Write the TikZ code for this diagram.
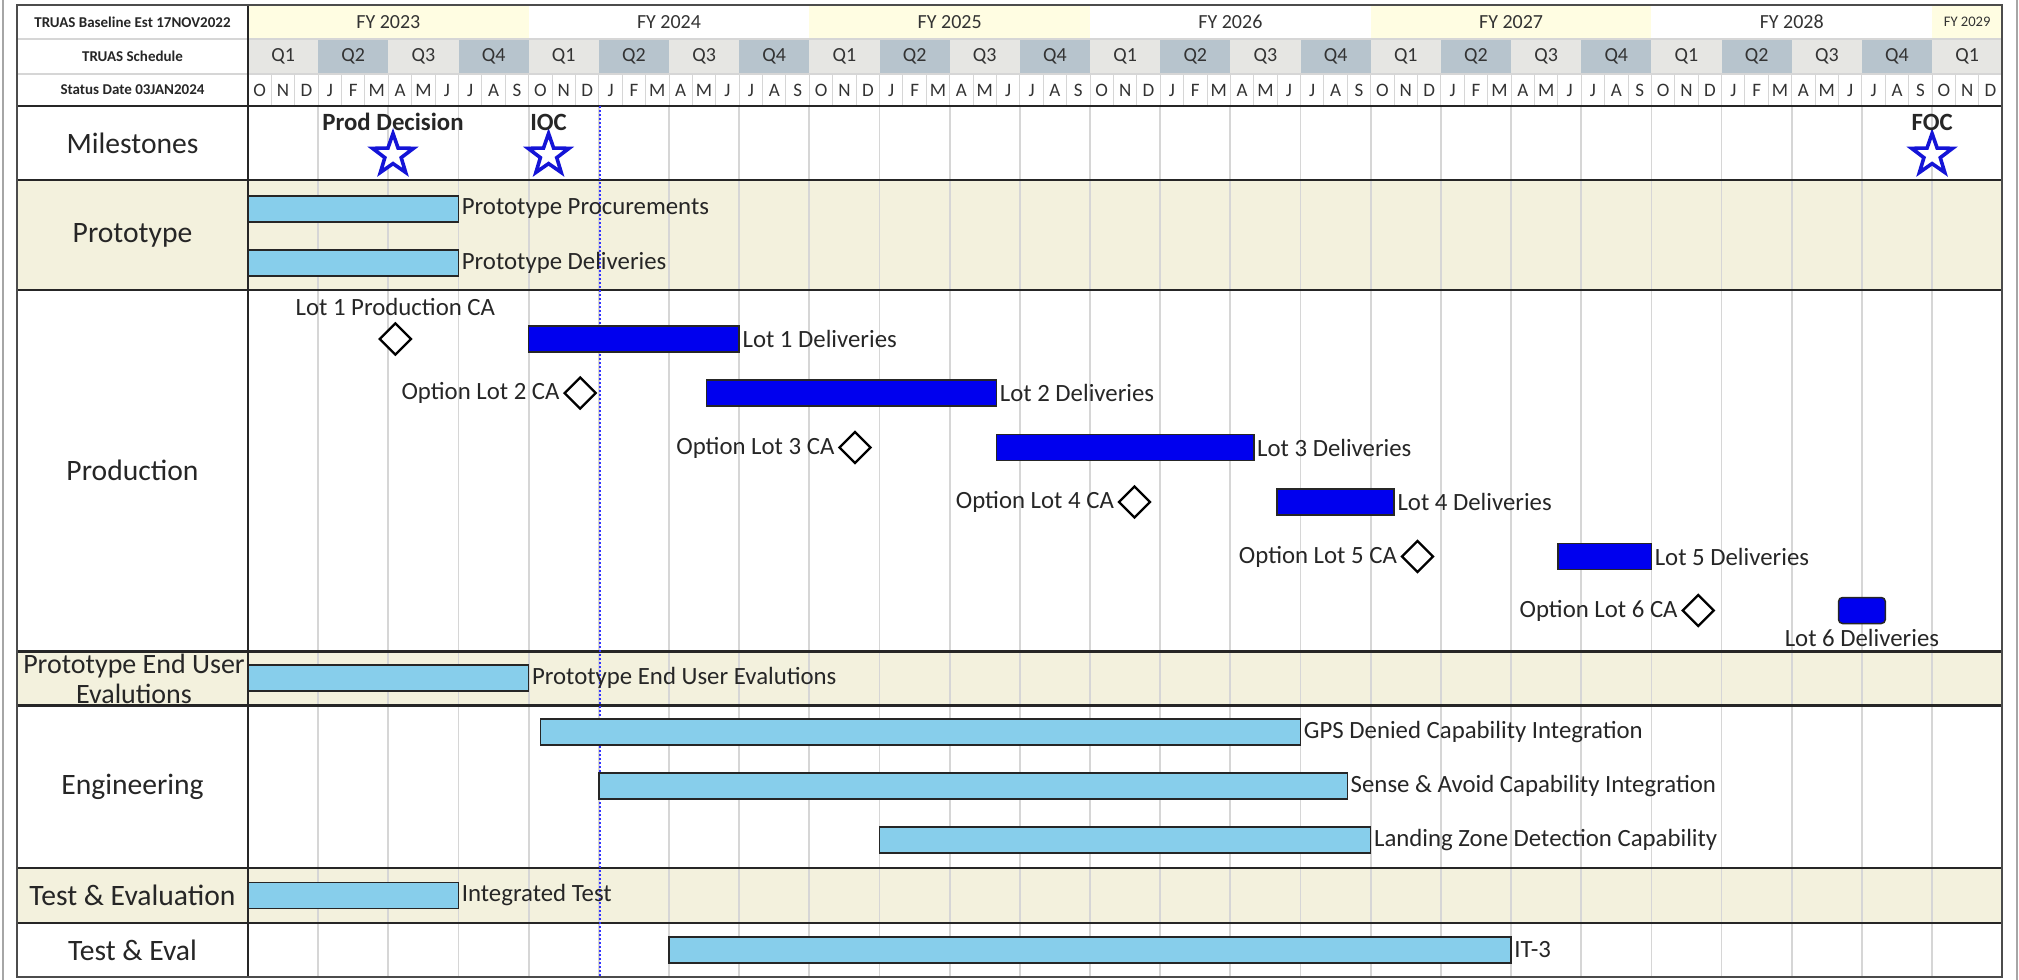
\documentclass[tikz,border=0pt]{standalone}
\usepackage{fontspec}
\setmainfont{Carlito}
\usetikzlibrary{shapes.geometric}

\definecolor{fyyellow}{RGB}{255,253,226}
\definecolor{rowshade}{RGB}{243,241,221}
\definecolor{qlight}{RGB}{230,230,227}
\definecolor{qdark}{RGB}{183,196,205}
\definecolor{lightbar}{RGB}{135,206,235}
\definecolor{lotblue}{RGB}{0,0,238}
\definecolor{gridgray}{RGB}{214,214,214}
\definecolor{starblue}{RGB}{20,20,215}

\tikzset{
  framegray/.style={line width=1pt, gray!70},
  gridline/.style={line width=0.9pt, gridgray},
  hdrline/.style={line width=0.6pt, gridgray},
  sectline/.style={line width=1.2pt, black!85},
  borderline/.style={line width=1pt, black!70},
  statusline/.style={line width=1pt, blue!80, densely dotted},
  hdrtxt/.style={font=\fontsize{7.5}{9}\selectfont\bfseries, text=black!85},
  fytxt/.style={font=\fontsize{10}{12}\selectfont, text=black!80},
  monthtxt/.style={font=\fontsize{9.5}{11}\selectfont, text=black!80},
  secttxt/.style={font=\fontsize{14.8}{15}\selectfont, text=black!85, align=center},
  bartxt/.style={font=\fontsize{12.4}{14}\selectfont, text=black!85, inner sep=1.5pt},
  mstxt/.style={font=\fontsize{12.4}{14}\selectfont\bfseries, text=black!85},
  lightbox/.style={fill=lightbar, draw=black!85, line width=0.75pt},
  lotbox/.style={fill=lotblue, draw=black!85, line width=0.75pt},
  milestar/.style={star, star points=5, star point ratio=2.5, minimum size=21.5pt,
    inner sep=0pt, draw=starblue, line width=1.8pt, fill=white},
  cadiamond/.style={diamond, minimum size=16pt, inner sep=0pt, draw=black,
    line width=1.15pt, fill=white},
}

\begin{document}
\begin{tikzpicture}[x=0.5pt, y=-0.5pt]
    \useasboundingbox (0,0) rectangle (2019,980);

    % outer frame
    \draw[framegray] (2.5,0) -- (2.5,980);
    \draw[framegray] (2017,0) -- (2017,980);

    % shaded rows
    \fill[rowshade] (17,180) rectangle (2002,290);
    \fill[rowshade] (17,651.5) rectangle (2002,705.6);
    \fill[rowshade] (17,868) rectangle (2002,923);

    \begin{scope}[xshift=124pt, x=11.695pt]
        % FY row
        \foreach \yy [count=\k from 0] in {2023,...,2028}{
            \pgfmathtruncatemacro\ev{mod(\k,2)}
            \ifnum\ev=0 \fill[fyyellow] (12*\k,5) rectangle (12*\k+12,39); \fi
            \node[fytxt] (fy\yy) at (12*\k+6,22) {FY \yy};
        }
        \fill[fyyellow] (72,5) rectangle (75,39);
        \node[fytxt, font=\fontsize{7.3}{9}\selectfont] (fy2029) at (73.5,22) {FY 2029};

        % quarter row
        \foreach \q in {0,...,24}{
            \pgfmathtruncatemacro\qn{mod(\q,4)+1}
            \ifodd\qn \def\qfill{qlight}\else \def\qfill{qdark}\fi
            \fill[\qfill] (3*\q,39) rectangle (3*\q+3,74);
            \node[fytxt] (q\q) at (3*\q+1.5,56.5) {Q\qn};
        }

        % month row
        \foreach \yy in {0,...,6}{
            \foreach \l [count=\k from 0] in {O,N,D,J,F,M,A,M,J,J,A,S}{
                \pgfmathtruncatemacro\i{12*\yy+\k}
                \ifnum\i<75
                    \node[monthtxt] (m\i) at (\i+0.5,90) {\l};
                \fi
            }
        }
        \foreach \m in {1,...,74} \draw[gridline, line width=0.5pt] (\m,74) -- (\m,106);

        % quarter grid
        \foreach \m in {3,6,...,72} \draw[gridline] (\m,106) -- (\m,977);
    \end{scope}

    % table lines
    \draw[hdrline] (17,39) -- (2002,39);
    \draw[hdrline] (17,74) -- (2002,74);
    \foreach \yy in {106,180,290,651.5,705.6,868,923}
        \draw[sectline] (17,\yy) -- (2002,\yy);
    \draw[sectline] (248,5) -- (248,977);
    \draw[borderline] (17,5) rectangle (2002,977);

    % header labels
    \node[hdrtxt] (baseline) at (132.5,22) {TRUAS Baseline Est 17NOV2022};
    \node[hdrtxt] (schedule) at (132.5,56.5) {TRUAS Schedule};
    \node[hdrtxt] (status) at (132.5,90) {Status Date 03JAN2024};

    % section labels
    \node[secttxt] (milestones) at (132.5,143) {Milestones};
    \node[secttxt] (prototype) at (132.5,235) {Prototype};
    \node[secttxt] (production) at (132.5,470) {Production};
    \node[secttxt, font=\fontsize{14}{15}\selectfont] (enduser) at (134,678.5) {Prototype End User\\Evalutions};
    \node[secttxt] (engineering) at (132.5,786.5) {Engineering};
    \node[secttxt] (testevaluation) at (132.5,895.5) {Test \& Evaluation};
    \node[secttxt] (testeval) at (132.5,950) {Test \& Eval};

    \begin{scope}[xshift=124pt, x=11.695pt]
        % status date
        \draw[statusline] (15.07,106) -- (15.07,977);

        % milestones
        \node[milestar] (proddec) at (6.2,155) {};
        \node[mstxt] (proddeclbl) at (6.2,122) {Prod Decision};
        \node[milestar] (ioc) at (12.85,155) {};
        \node[mstxt] (ioclbl) at (12.85,122) {IOC};
        \node[milestar] (foc) at (72,155) {};
        \node[mstxt] (foclbl) at (72,122) {FOC};

        % prototype
        \draw[lightbox] (0,196) rectangle (9,222);
        \node[bartxt, anchor=west] (protoproc) at (9,209) {Prototype Procurements};
        \draw[lightbox] (0,250) rectangle (9,276);
        \node[bartxt, anchor=west] (protodel) at (9,263) {Prototype Deliveries};

        % production
        \node[cadiamond] (ca1) at (6.3,339) {};
        \node[bartxt, anchor=south] (ca1lbl) at ([yshift=1.5pt]ca1.north) {Lot 1 Production CA};
        \draw[lotbox] (12,326) rectangle (21,352);
        \node[bartxt, anchor=west] (lot1) at (21,339) {Lot 1 Deliveries};

        \node[cadiamond] (ca2) at (14.2,393) {};
        \node[bartxt, anchor=east] (ca2lbl) at (ca2.west) {Option Lot 2 CA};
        \draw[lotbox] (19.6,380) rectangle (32,406);
        \node[bartxt, anchor=west] (lot2) at (32,393) {Lot 2 Deliveries};

        \node[cadiamond] (ca3) at (25.95,447.5) {};
        \node[bartxt, anchor=east] (ca3lbl) at (ca3.west) {Option Lot 3 CA};
        \draw[lotbox] (32,434.5) rectangle (43,460.5);
        \node[bartxt, anchor=west] (lot3) at (43,447.5) {Lot 3 Deliveries};

        \node[cadiamond] (ca4) at (37.9,502) {};
        \node[bartxt, anchor=east] (ca4lbl) at (ca4.west) {Option Lot 4 CA};
        \draw[lotbox] (44,489) rectangle (49,515);
        \node[bartxt, anchor=west] (lot4) at (49,502) {Lot 4 Deliveries};

        \node[cadiamond] (ca5) at (50,556.5) {};
        \node[bartxt, anchor=east] (ca5lbl) at (ca5.west) {Option Lot 5 CA};
        \draw[lotbox] (56,543.5) rectangle (60,569.5);
        \node[bartxt, anchor=west] (lot5) at (60,556.5) {Lot 5 Deliveries};

        \node[cadiamond] (ca6) at (62,610.5) {};
        \node[bartxt, anchor=east] (ca6lbl) at (ca6.west) {Option Lot 6 CA};
        \draw[lotbox, rounded corners=2pt] (68,597.5) rectangle (70,623.5);
        \node[bartxt] (lot6) at (69,638) {Lot 6 Deliveries};

        % end user evaluations
        \draw[lightbox] (0,665) rectangle (12,691);
        \node[bartxt, anchor=west] (enduserbar) at (12,678) {Prototype End User Evalutions};

        % engineering
        \draw[lightbox] (12.5,719) rectangle (45,745);
        \node[bartxt, anchor=west] (gps) at (45,732) {GPS Denied Capability Integration};
        \draw[lightbox] (15,773) rectangle (47,799);
        \node[bartxt, anchor=west] (senseavoid) at (47,786) {Sense \& Avoid Capability Integration};
        \draw[lightbox] (27,827) rectangle (48,853);
        \node[bartxt, anchor=west] (landingzone) at (48,840) {Landing Zone Detection Capability};

        % test
        \draw[lightbox] (0,882.5) rectangle (9,908.5);
        \node[bartxt, anchor=west] (inttest) at (9,895.5) {Integrated Test};
        \draw[lightbox] (18,937) rectangle (54,963);
        \node[bartxt, anchor=west] (itthree) at (54,950) {IT-3};
    \end{scope}
\end{tikzpicture}
\end{document}
